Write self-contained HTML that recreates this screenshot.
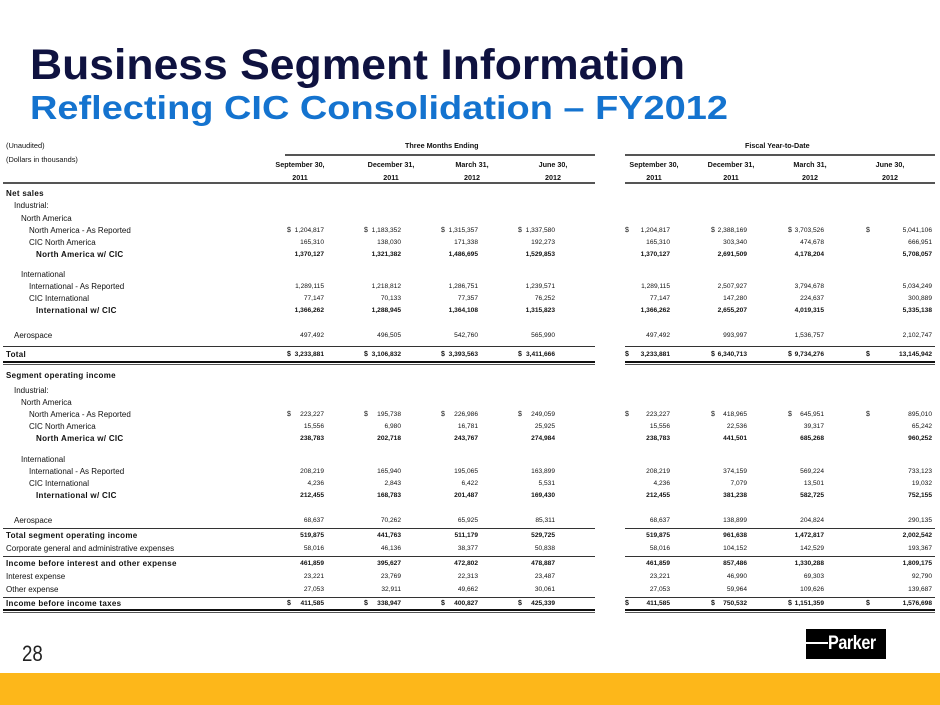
<!DOCTYPE html>
<html><head><meta charset="utf-8">
<style>
*{margin:0;padding:0}
body{width:940px;height:705px;position:relative;background:#fff;font-family:"Liberation Sans",Arial,sans-serif;color:#111;overflow:hidden}
.r{position:absolute;left:0;width:940px;height:12px;font-size:8px;line-height:12px}
.r span{position:absolute;white-space:nowrap}
.b{font-weight:bold;letter-spacing:0.3px}
.n{width:70px;text-align:right;font-size:6.6px;letter-spacing:0}
.c1{left:254px}.c2{left:331px}.c3{left:408px}.c4{left:485px}.c5{left:600px}.c6{left:677px}.c7{left:754px}.c8{left:862px}
.s{font-size:7px}
.s1{left:287px}.s2{left:364px}.s3{left:441px}.s4{left:518px}.s5{left:625px}.s6{left:711px}.s7{left:788px}.s8{left:866px}
.h{position:absolute;width:80px;text-align:center;font-size:7.2px;font-weight:bold;line-height:13px}
.ln{position:absolute;height:1px;background:#333}
</style></head><body>
<svg width="940" height="135" style="position:absolute;left:0;top:0">
<text x="30" y="79" font-family="Liberation Sans,Arial,sans-serif" font-weight="bold" font-size="43" fill="#0f1240" textLength="655" lengthAdjust="spacingAndGlyphs">Business Segment Information</text>
<text x="30" y="119" font-family="Liberation Sans,Arial,sans-serif" font-weight="bold" font-size="33" fill="#1473cf" textLength="698" lengthAdjust="spacingAndGlyphs">Reflecting CIC Consolidation – FY2012</text>
</svg>

<div class="r" style="top:140px;font-size:7.4px"><span style="left:6px">(Unaudited)</span><span class="b" style="left:405px;font-size:7.2px;letter-spacing:0">Three Months Ending</span><span class="b" style="left:745px;font-size:7.2px;letter-spacing:0">Fiscal Year-to-Date</span></div>
<div class="r" style="top:154px;font-size:7.4px"><span style="left:6px">(Dollars in thousands)</span></div>
<div class="ln" style="left:285px;width:310px;top:154px;height:2px;background:#555"></div>
<div class="ln" style="left:625px;width:310px;top:154px;height:2px;background:#555"></div>

<div class="h" style="left:260px;top:158px">September 30,<br>2011</div>
<div class="h" style="left:351px;top:158px">December 31,<br>2011</div>
<div class="h" style="left:432px;top:158px">March 31,<br>2012</div>
<div class="h" style="left:513px;top:158px">June 30,<br>2012</div>
<div class="h" style="left:614px;top:158px">September 30,<br>2011</div>
<div class="h" style="left:691px;top:158px">December 31,<br>2011</div>
<div class="h" style="left:770px;top:158px">March 31,<br>2012</div>
<div class="h" style="left:850px;top:158px">June 30,<br>2012</div>
<div class="ln" style="left:3px;width:592px;top:182px;height:2px;background:#555"></div>
<div class="ln" style="left:625px;width:310px;top:182px;height:2px;background:#555"></div>

<div class="r b" style="top:188px"><span style="left:6px">Net sales</span></div>
<div class="r" style="top:200px"><span style="left:14px">Industrial:</span></div>
<div class="r" style="top:213px"><span style="left:21px">North America</span></div>
<div class="r" style="top:225px"><span style="left:29px">North America - As Reported</span>
<span class="s s1">$</span><span class="n c1">1,204,817</span><span class="s s2">$</span><span class="n c2">1,183,352</span><span class="s s3">$</span><span class="n c3">1,315,357</span><span class="s s4">$</span><span class="n c4">1,337,580</span>
<span class="s s5">$</span><span class="n c5">1,204,817</span><span class="s s6">$</span><span class="n c6">2,388,169</span><span class="s s7">$</span><span class="n c7">3,703,526</span><span class="s s8">$</span><span class="n c8">5,041,106</span></div>
<div class="r" style="top:237px"><span style="left:29px">CIC North America</span>
<span class="n c1">165,310</span><span class="n c2">138,030</span><span class="n c3">171,338</span><span class="n c4">192,273</span><span class="n c5">165,310</span><span class="n c6">303,340</span><span class="n c7">474,678</span><span class="n c8">666,951</span></div>
<div class="r b" style="top:249px"><span style="left:36px">North America w/ CIC</span>
<span class="n c1">1,370,127</span><span class="n c2">1,321,382</span><span class="n c3">1,486,695</span><span class="n c4">1,529,853</span><span class="n c5">1,370,127</span><span class="n c6">2,691,509</span><span class="n c7">4,178,204</span><span class="n c8">5,708,057</span></div>

<div class="r" style="top:269px"><span style="left:21px">International</span></div>
<div class="r" style="top:281px"><span style="left:29px">International - As Reported</span>
<span class="n c1">1,289,115</span><span class="n c2">1,218,812</span><span class="n c3">1,286,751</span><span class="n c4">1,239,571</span><span class="n c5">1,289,115</span><span class="n c6">2,507,927</span><span class="n c7">3,794,678</span><span class="n c8">5,034,249</span></div>
<div class="r" style="top:293px"><span style="left:29px">CIC International</span>
<span class="n c1">77,147</span><span class="n c2">70,133</span><span class="n c3">77,357</span><span class="n c4">76,252</span><span class="n c5">77,147</span><span class="n c6">147,280</span><span class="n c7">224,637</span><span class="n c8">300,889</span></div>
<div class="r b" style="top:305px"><span style="left:36px">International w/ CIC</span>
<span class="n c1">1,366,262</span><span class="n c2">1,288,945</span><span class="n c3">1,364,108</span><span class="n c4">1,315,823</span><span class="n c5">1,366,262</span><span class="n c6">2,655,207</span><span class="n c7">4,019,315</span><span class="n c8">5,335,138</span></div>

<div class="r" style="top:330px"><span style="left:14px">Aerospace</span>
<span class="n c1">497,492</span><span class="n c2">496,505</span><span class="n c3">542,760</span><span class="n c4">565,990</span><span class="n c5">497,492</span><span class="n c6">993,997</span><span class="n c7">1,536,757</span><span class="n c8">2,102,747</span></div>
<div class="ln" style="left:3px;width:592px;top:346px"></div>
<div class="ln" style="left:625px;width:310px;top:346px"></div>
<div class="r b" style="top:349px"><span style="left:6px">Total</span>
<span class="s s1">$</span><span class="n c1">3,233,881</span><span class="s s2">$</span><span class="n c2">3,106,832</span><span class="s s3">$</span><span class="n c3">3,393,563</span><span class="s s4">$</span><span class="n c4">3,411,666</span>
<span class="s s5">$</span><span class="n c5">3,233,881</span><span class="s s6">$</span><span class="n c6">6,340,713</span><span class="s s7">$</span><span class="n c7">9,734,276</span><span class="s s8">$</span><span class="n c8">13,145,942</span></div>
<div class="ln" style="left:3px;width:592px;top:361px;height:2px;background:#111"></div>
<div class="ln" style="left:3px;width:592px;top:364px;background:#555"></div>
<div class="ln" style="left:625px;width:310px;top:361px;height:2px;background:#111"></div>
<div class="ln" style="left:625px;width:310px;top:364px;background:#555"></div>

<div class="r b" style="top:370px"><span style="left:6px">Segment operating income</span></div>
<div class="r" style="top:385px"><span style="left:14px">Industrial:</span></div>
<div class="r" style="top:397px"><span style="left:21px">North America</span></div>
<div class="r" style="top:409px"><span style="left:29px">North America - As Reported</span>
<span class="s s1">$</span><span class="n c1">223,227</span><span class="s s2">$</span><span class="n c2">195,738</span><span class="s s3">$</span><span class="n c3">226,986</span><span class="s s4">$</span><span class="n c4">249,059</span>
<span class="s s5">$</span><span class="n c5">223,227</span><span class="s s6">$</span><span class="n c6">418,965</span><span class="s s7">$</span><span class="n c7">645,951</span><span class="s s8">$</span><span class="n c8">895,010</span></div>
<div class="r" style="top:421px"><span style="left:29px">CIC North America</span>
<span class="n c1">15,556</span><span class="n c2">6,980</span><span class="n c3">16,781</span><span class="n c4">25,925</span><span class="n c5">15,556</span><span class="n c6">22,536</span><span class="n c7">39,317</span><span class="n c8">65,242</span></div>
<div class="r b" style="top:433px"><span style="left:36px">North America w/ CIC</span>
<span class="n c1">238,783</span><span class="n c2">202,718</span><span class="n c3">243,767</span><span class="n c4">274,984</span><span class="n c5">238,783</span><span class="n c6">441,501</span><span class="n c7">685,268</span><span class="n c8">960,252</span></div>

<div class="r" style="top:454px"><span style="left:21px">International</span></div>
<div class="r" style="top:466px"><span style="left:29px">International - As Reported</span>
<span class="n c1">208,219</span><span class="n c2">165,940</span><span class="n c3">195,065</span><span class="n c4">163,899</span><span class="n c5">208,219</span><span class="n c6">374,159</span><span class="n c7">569,224</span><span class="n c8">733,123</span></div>
<div class="r" style="top:478px"><span style="left:29px">CIC International</span>
<span class="n c1">4,236</span><span class="n c2">2,843</span><span class="n c3">6,422</span><span class="n c4">5,531</span><span class="n c5">4,236</span><span class="n c6">7,079</span><span class="n c7">13,501</span><span class="n c8">19,032</span></div>
<div class="r b" style="top:490px"><span style="left:36px">International w/ CIC</span>
<span class="n c1">212,455</span><span class="n c2">168,783</span><span class="n c3">201,487</span><span class="n c4">169,430</span><span class="n c5">212,455</span><span class="n c6">381,238</span><span class="n c7">582,725</span><span class="n c8">752,155</span></div>

<div class="r" style="top:515px"><span style="left:14px">Aerospace</span>
<span class="n c1">68,637</span><span class="n c2">70,262</span><span class="n c3">65,925</span><span class="n c4">85,311</span><span class="n c5">68,637</span><span class="n c6">138,899</span><span class="n c7">204,824</span><span class="n c8">290,135</span></div>
<div class="ln" style="left:3px;width:592px;top:528px"></div>
<div class="ln" style="left:625px;width:310px;top:528px"></div>
<div class="r b" style="top:530px"><span style="left:6px">Total segment operating income</span>
<span class="n c1">519,875</span><span class="n c2">441,763</span><span class="n c3">511,179</span><span class="n c4">529,725</span><span class="n c5">519,875</span><span class="n c6">961,638</span><span class="n c7">1,472,817</span><span class="n c8">2,002,542</span></div>
<div class="r" style="top:543px"><span style="left:6px">Corporate general and administrative expenses</span>
<span class="n c1">58,016</span><span class="n c2">46,136</span><span class="n c3">38,377</span><span class="n c4">50,838</span><span class="n c5">58,016</span><span class="n c6">104,152</span><span class="n c7">142,529</span><span class="n c8">193,367</span></div>
<div class="ln" style="left:3px;width:592px;top:556px"></div>
<div class="ln" style="left:625px;width:310px;top:556px"></div>
<div class="r b" style="top:558px"><span style="left:6px">Income before interest and other expense</span>
<span class="n c1">461,859</span><span class="n c2">395,627</span><span class="n c3">472,802</span><span class="n c4">478,887</span><span class="n c5">461,859</span><span class="n c6">857,486</span><span class="n c7">1,330,288</span><span class="n c8">1,809,175</span></div>
<div class="r" style="top:571px"><span style="left:6px">Interest expense</span>
<span class="n c1">23,221</span><span class="n c2">23,769</span><span class="n c3">22,313</span><span class="n c4">23,487</span><span class="n c5">23,221</span><span class="n c6">46,990</span><span class="n c7">69,303</span><span class="n c8">92,790</span></div>
<div class="r" style="top:584px"><span style="left:6px">Other expense</span>
<span class="n c1">27,053</span><span class="n c2">32,911</span><span class="n c3">49,662</span><span class="n c4">30,061</span><span class="n c5">27,053</span><span class="n c6">59,964</span><span class="n c7">109,626</span><span class="n c8">139,687</span></div>
<div class="ln" style="left:3px;width:592px;top:597px"></div>
<div class="ln" style="left:625px;width:310px;top:597px"></div>
<div class="r b" style="top:598px"><span style="left:6px">Income before income taxes</span>
<span class="s s1">$</span><span class="n c1">411,585</span><span class="s s2">$</span><span class="n c2">338,947</span><span class="s s3">$</span><span class="n c3">400,827</span><span class="s s4">$</span><span class="n c4">425,339</span>
<span class="s s5">$</span><span class="n c5">411,585</span><span class="s s6">$</span><span class="n c6">750,532</span><span class="s s7">$</span><span class="n c7">1,151,359</span><span class="s s8">$</span><span class="n c8">1,576,698</span></div>
<div class="ln" style="left:3px;width:592px;top:609px;height:2px;background:#111"></div>
<div class="ln" style="left:3px;width:592px;top:612px;background:#555"></div>
<div class="ln" style="left:625px;width:310px;top:609px;height:2px;background:#111"></div>
<div class="ln" style="left:625px;width:310px;top:612px;background:#555"></div>

<div style="position:absolute;left:22px;top:641px;font-size:22px;color:#222;transform:scaleX(0.85);transform-origin:left">28</div>

<div style="position:absolute;left:806px;top:629px;width:80px;height:30px;background:#000;overflow:hidden">
<div style="position:absolute;left:0;top:13px;width:22px;height:2px;background:#fff"></div>
<div style="position:absolute;left:22px;top:4px;font-size:19px;font-weight:bold;color:#fff;line-height:22px;transform:scaleX(0.85);transform-origin:left;letter-spacing:-0.5px">Parker</div>
</div>

<div style="position:absolute;left:0;top:673px;width:940px;height:32px;background:#fdb71a"></div>
</body></html>
